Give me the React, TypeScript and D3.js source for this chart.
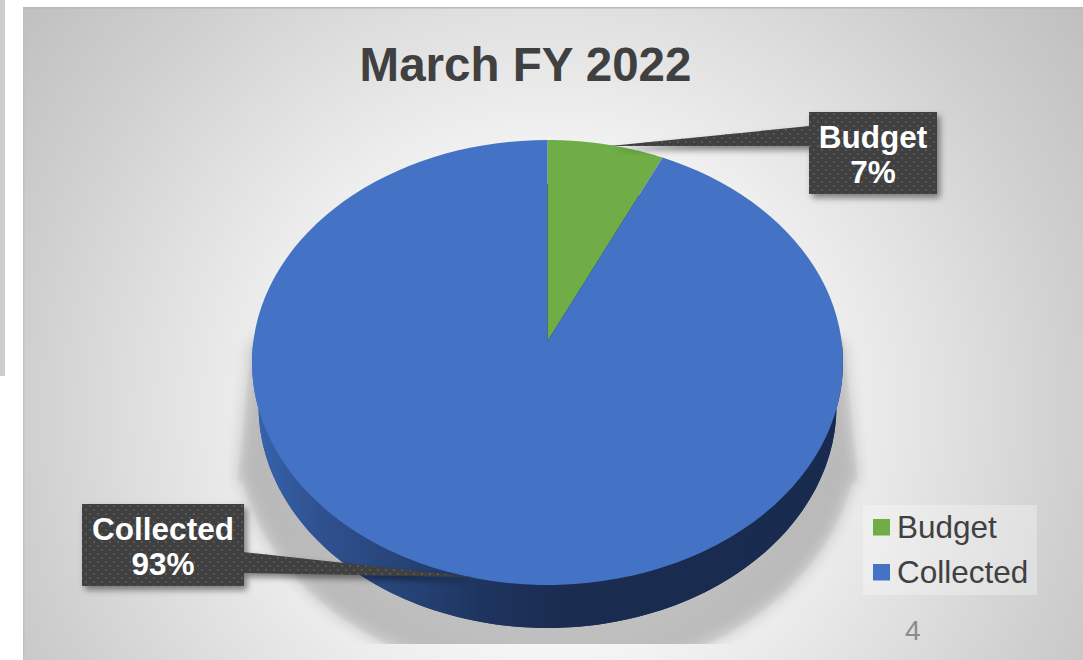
import React from "react";
import * as d3 from "d3";

const categories = ["Budget", "Collected"];
const shares = [7, 93];
const sliceColors = ["#70ad47", "#4472c4"];
const chartTitle = "March FY 2022";
const pageNumber = "4";

const W = 1083;
const H = 660;

// The tilted disc: a circle seen in perspective, so the centre of the pie
// does not sit at the centre of the drawn ellipse.
const apexX = 547.5;
const apexY = 341;
const spreadX = 294.1;
const spreadY = 220.4;
const tilt = -0.0966;

type Rim = { sx: number; sy: number; dy: number };
const topRim: Rim = { sx: 1, sy: 1, dy: 0 };
const baseRim: Rim = { sx: 0.978, sy: 0.998, dy: 43.5 };

function project(a: number, r: Rim): [number, number] {
  const u = Math.sin(a);
  const v = Math.cos(a);
  const d = 1 - tilt * v;
  return [apexX + (r.sx * spreadX * u) / d, apexY + r.dy - (r.sy * spreadY * v) / d];
}

const line = d3.line();
const arcSteps = (a0: number, a1: number) =>
  d3.range(0, 121).map((i) => a0 + ((a1 - a0) * i) / 120);

const pie = d3.pie<number>().sort(null).value((d) => d);
const slices = pie(shares);

const slicePath = (a0: number, a1: number) =>
  line([[apexX, apexY], ...arcSteps(a0, a1).map((a) => project(a, topRim))]) + "Z";

const fullRim = (r: Rim) => line(arcSteps(0, 2 * Math.PI).map((a) => project(a, r))) + "Z";

const wallPath =
  line([
    ...arcSteps(Math.PI / 2, (3 * Math.PI) / 2).map((a) => project(a, topRim)),
    ...arcSteps((3 * Math.PI) / 2, Math.PI / 2).map((a) => project(a, baseRim)),
  ]) + "Z";

// Cast shadow: straight flanks running down from the disc, closing on a wider rim.
const shadowRim: Rim = { sx: 1.05, sy: 1.1, dy: 70 };
const shadowShape =
  line([
    [252, 340],
    [238, 480],
    ...arcSteps((3 * Math.PI) / 2 - 0.3, Math.PI / 2 + 0.3).map((a) => project(a, shadowRim)),
    [858, 480],
    [843, 340],
  ]) + "Z";

const bgStops: [number, string][] = [
  [0, "#ffffff"],
  [180, "#fbfbfb"],
  [260, "#f2f2f2"],
  [410, "#dfdfdf"],
  [530, "#cfcfcf"],
  [670, "#bfbfbf"],
];
const bgRadius = 670;

const wallStops: [number, string][] = [
  [252, "#3763ae"],
  [320, "#2f5190"],
  [400, "#274478"],
  [480, "#1e3560"],
  [560, "#1a2c50"],
  [843, "#182a4e"],
];
const wallX = d3.scaleLinear().domain([252, 843]).range([0, 100]);

const labelFont = "'Liberation Sans', Arial, sans-serif";

function Callout({ x, y, w, h, name, value, tail }: any) {
  const tailPath = line(tail) + "Z";
  return (
    <g>
      <g filter="url(#boxShadow)">
        <path d={tailPath} fill="#3f3f3f" />
        <rect x={x} y={y} width={w} height={h} fill="#3f3f3f" />
      </g>
      <path d={tailPath} fill="url(#dots)" />
      <rect x={x} y={y} width={w} height={h} fill="url(#dots)" />
      <text
        x={x + w / 2}
        y={y + 36}
        textAnchor="middle"
        fontFamily={labelFont}
        fontWeight="700"
        fontSize={31.5}
        fill="#ffffff"
      >
        {name}
      </text>
      <text
        x={x + w / 2}
        y={y + 71}
        textAnchor="middle"
        fontFamily={labelFont}
        fontWeight="700"
        fontSize={31.5}
        fill="#ffffff"
      >
        {value}%
      </text>
    </g>
  );
}

export default function App() {
  return (
    <svg
      width={W}
      height={H}
      viewBox={`0 0 ${W} ${H}`}
      style={{ position: "absolute", left: 0, top: 0, display: "block", background: "#ffffff" }}
    >
      <defs>
        <radialGradient id="panel" gradientUnits="userSpaceOnUse" cx={550} cy={410} r={bgRadius}>
          {bgStops.map(([r, c]) => (
            <stop key={r} offset={r / bgRadius} stopColor={c} />
          ))}
        </radialGradient>
        <linearGradient id="wall" x1="252" x2="843" y1="0" y2="0" gradientUnits="userSpaceOnUse">
          {wallStops.map(([x, c]) => (
            <stop key={x} offset={`${wallX(x)}%`} stopColor={c} />
          ))}
        </linearGradient>
        <pattern id="dots" width={8} height={8} patternUnits="userSpaceOnUse">
          <rect x={1} y={1} width={2} height={2} fill="#575757" />
          <rect x={5} y={5} width={2} height={2} fill="#575757" />
        </pattern>
        <filter id="softShadow" x="-20%" y="-20%" width="140%" height="140%">
          <feGaussianBlur stdDeviation={8} />
        </filter>
        <filter id="flankShadow" x="-20%" y="-20%" width="140%" height="140%">
          <feGaussianBlur stdDeviation={1.5} />
        </filter>
        <filter id="boxShadow" x="-20%" y="-20%" width="140%" height="150%">
          <feDropShadow dx={3} dy={4} stdDeviation={3} floodColor="#000000" floodOpacity={0.45} />
        </filter>
        <clipPath id="shadowClip">
          <rect x={228} y={330} width={640} height={314} />
        </clipPath>
      </defs>

      {/* sliver of the neighbouring slide */}
      <rect x={0} y={0} width={5} height={376} fill="#cdcdcd" />

      {/* slide panel */}
      <rect x={23} y={7} width={W - 23} height={H - 7} fill="url(#panel)" />
      <rect x={23} y={7} width={W - 23} height={1.5} fill="#b8b8b8" />
      <rect x={23} y={7} width={1.5} height={H - 7} fill="#bdbdbd" opacity={0.7} />

      {/* cast shadow under the disc: faint crisp flanks plus a denser soft core */}
      <g clipPath="url(#shadowClip)">
        <path d={shadowShape} fill="#000000" opacity={0.04} filter="url(#flankShadow)" />
        <path d={shadowShape} fill="#000000" opacity={0.18} filter="url(#softShadow)" />
      </g>

      {/* side wall and top face */}
      <path d={fullRim(baseRim)} fill="url(#wall)" />
      <path d={wallPath} fill="url(#wall)" />
      {slices.map((s, i) => (
        <path key={categories[i]} d={slicePath(s.startAngle, s.endAngle)} fill={sliceColors[i]} />
      ))}

      <text
        x={525.5}
        y={81}
        textAnchor="middle"
        fontFamily={labelFont}
        fontWeight="700"
        fontSize={47.5}
        fill="#404040"
      >
        {chartTitle}
      </text>

      <Callout
        x={809}
        y={112}
        w={128}
        h={82}
        name={categories[0]}
        value={shares[0]}
        tail={[
          [810, 126],
          [610, 146],
          [810, 146],
        ]}
      />
      <Callout
        x={82}
        y={504}
        w={162}
        h={82}
        name={categories[1]}
        value={shares[1]}
        tail={[
          [243, 552],
          [473, 577],
          [243, 573],
        ]}
      />

      {/* legend */}
      <rect x={863} y={505} width={174} height={90} fill="#ffffff" opacity={0.3} />
      {categories.map((c, i) => (
        <g key={c}>
          <rect x={873} y={519 + i * 45} width={17} height={16.5} fill={sliceColors[i]} />
          <text x={897} y={538 + i * 45} fontFamily={labelFont} fontSize={31.5} fill="#404040">
            {c}
          </text>
        </g>
      ))}

      <text x={905} y={640} fontFamily={labelFont} fontSize={28} fill="#8c8c8c">
        {pageNumber}
      </text>
    </svg>
  );
}
